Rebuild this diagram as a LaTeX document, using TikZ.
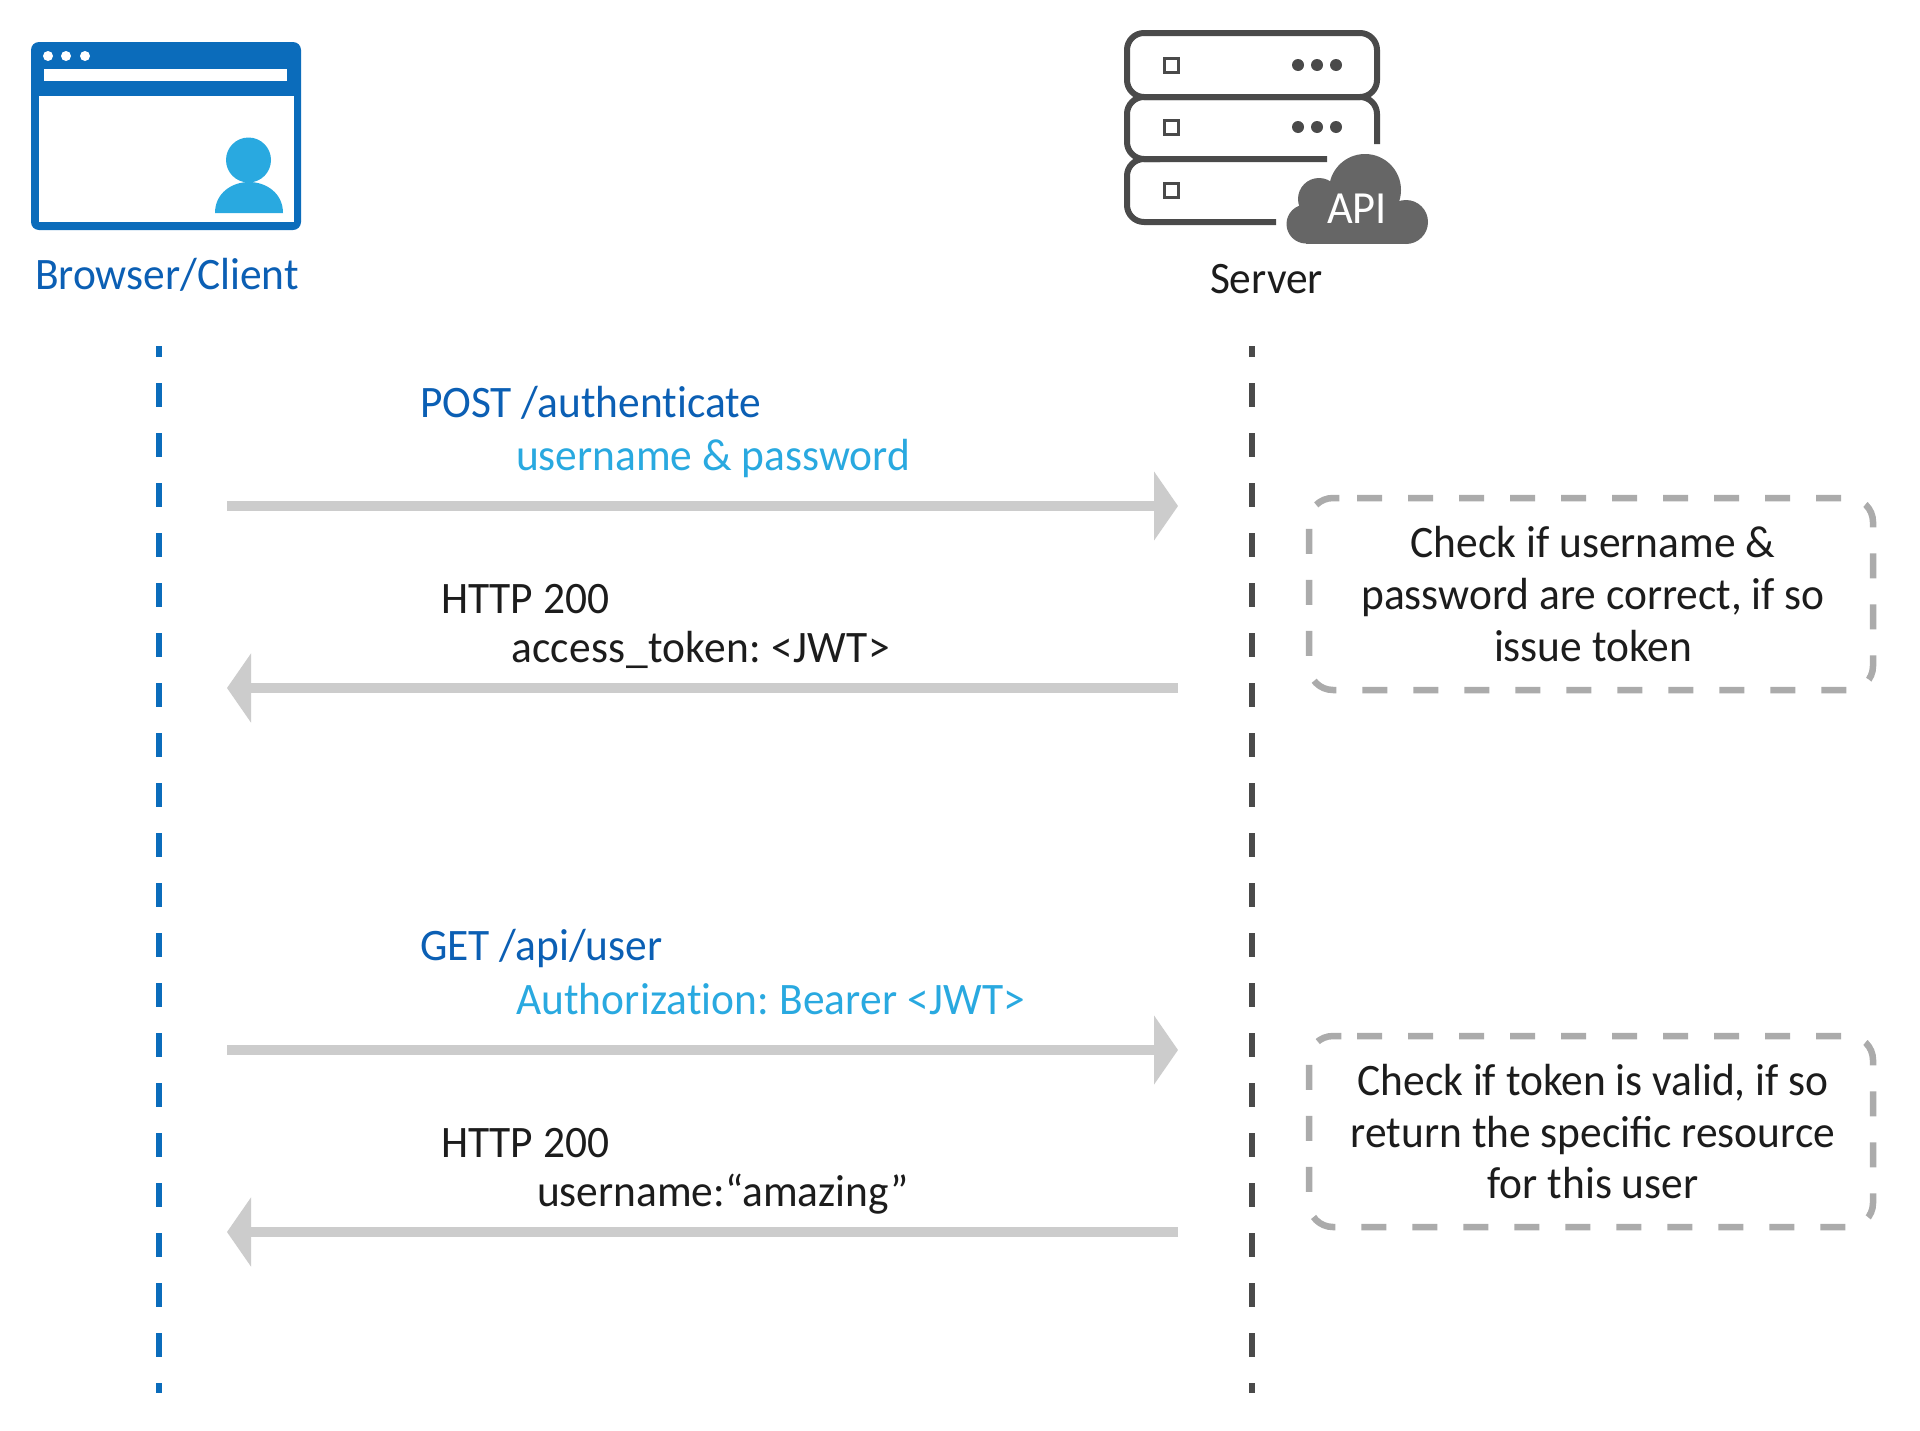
\documentclass[tikz,border=0pt]{standalone}
\usepackage{fontspec}
\usetikzlibrary{arrows.meta}
\setmainfont[FakeStretch=0.965]{Carlito}
\definecolor{navy}{HTML}{0B5FB4}
\definecolor{winblue}{HTML}{0B6CBB}
\definecolor{sky}{HTML}{29A9E0}
\definecolor{ink}{HTML}{1C1C1C}
\definecolor{rack}{HTML}{4A4A4A}
\definecolor{cloudc}{HTML}{666666}
\definecolor{arrowc}{HTML}{CCCCCC}
\definecolor{framec}{HTML}{ABABAB}
\tikzset{
  lbl/.style={anchor=base west,inner sep=0pt,outer sep=0pt,font=\fontsize{45}{54}\selectfont\frenchspacing},
  note/.style={anchor=base,inner sep=0pt,outer sep=0pt,font=\fontsize{45}{54}\selectfont\frenchspacing,text=ink},
  msg/.style={line width=10pt,draw=arrowc,-{Triangle[length=24pt,width=68pt,fill=arrowc]}},
  lifeline/.style={line width=6pt,dash pattern=on 24pt off 26pt,dash phase=13pt},
  frameline/.style={line width=6.5pt,draw=framec,dash pattern=on 25pt off 26pt},
  rackline/.style={line width=6pt,draw=rack},
}
\begin{document}
\begin{tikzpicture}[x=1pt,y=-1pt]
\useasboundingbox[fill=white] (0,0) rectangle (1920,1430);
% browser icon
\fill[winblue,rounded corners=8pt] (31,42) rectangle (301,230);
\fill[white] (39,96) rectangle (294,222);
\fill[white] (44,69) rectangle (287,81);
\foreach \px in {48,66,85}{\fill[white] (\px,56) circle (5);}
\fill[sky] (248.5,160) circle (22.5);
\fill[sky] (215,213) .. controls (215,193) and (232,182) .. (249,182) .. controls (266,182) and (283,193) .. (283,213) -- cycle;
\node[lbl,text=navy] (browser) at (35,289.5) {Browser/Client};
% server icon
\draw[rackline,rounded corners=17pt] (1127,33) rectangle (1377,97);
\draw[rackline,rounded corners=17pt] (1377,144) -- (1377,97) -- (1127,97) -- (1127,159) -- (1327,159);
\draw[rackline,rounded corners=17pt] (1276,222) -- (1127,222) -- (1127,159) -- (1160,159);
\foreach \py in {65,127,190}{\draw[line width=3pt,draw=rack] (1164,\py-7) rectangle (1178,\py+7);}
\foreach \py in {65,127}{\foreach \px in {1298,1317,1336}{\fill[rack] (\px,\py) circle (6);}}
\fill[cloudc] (1365,190) circle (36);
\fill[cloudc] (1319,199) circle (21);
\fill[cloudc] (1306,224) circle (19.5);
\fill[cloudc] (1406,222) circle (22);
\fill[cloudc] (1306,210) rectangle (1406,244);
\node[anchor=base west,inner sep=0pt,text=white,font=\fontsize{46}{50}\selectfont] (api) at (1327,223) {API};
\node[lbl,text=ink] (server) at (1210,293) {Server};
% lifelines
\coordinate (lA) at (159,346); \coordinate (lB) at (159,1393);
\coordinate (rA) at (1252,346); \coordinate (rB) at (1252,1393);
\draw[lifeline,draw=winblue] (lA) -- (lB);
\draw[lifeline,draw=rack] (rA) -- (rB);
% messages
\coordinate (a1) at (227,506); \coordinate (b1) at (1178,506);
\coordinate (a2) at (1178,688); \coordinate (b2) at (227,688);
\coordinate (a3) at (227,1050); \coordinate (b3) at (1178,1050);
\coordinate (a4) at (1178,1232); \coordinate (b4) at (227,1232);
\draw[msg] (a1) -- (b1);
\draw[msg] (a2) -- (b2);
\draw[msg] (a3) -- (b3);
\draw[msg] (a4) -- (b4);
\node[lbl,text=navy] (m1a) at (420,417) {POST /authent\kern0pt icate};
\node[lbl,text=sky] (m1b) at (516,470) {username \& password};
\node[lbl,text=ink] (m2a) at (441,613) {HTTP 200};
\node[lbl,text=ink] (m2b) at (511,662) {\addfontfeature{LetterSpace=0.8}access\_token: <JWT>};
\node[lbl,text=navy] (m3a) at (420,960) {GET /api/user};
\node[lbl,text=sky] (m3b) at (516,1014) {\addfontfeature{LetterSpace=0.3}Authorizat\kern0pt ion: Bearer <JWT>};
\node[lbl,text=ink] (m4a) at (441,1157) {HTTP 200};
\node[lbl,text=ink] (m4b) at (537,1206) {username:“amazing”};
% notes
\draw[frameline,rounded corners=24pt] (1357,498) -- (1873,498) -- (1873,690) -- (1309,690) -- (1309,498) -- (1357,498);
\node[note] (n1a) at (1593,557) {Check if username \&};
\node[note] (n1b) at (1593,609) {password are correct, if so};
\node[note] (n1c) at (1593,661) {issue token};
\draw[frameline,rounded corners=24pt] (1357,1036) -- (1873,1036) -- (1873,1227) -- (1309,1227) -- (1309,1036) -- (1357,1036);
\node[note] (n2a) at (1593,1095) {Check if token is valid, if so};
\node[note] (n2b) at (1593,1147) {return the specific resource};
\node[note] (n2c) at (1593,1198) {for this user};
\end{tikzpicture}
\end{document}
